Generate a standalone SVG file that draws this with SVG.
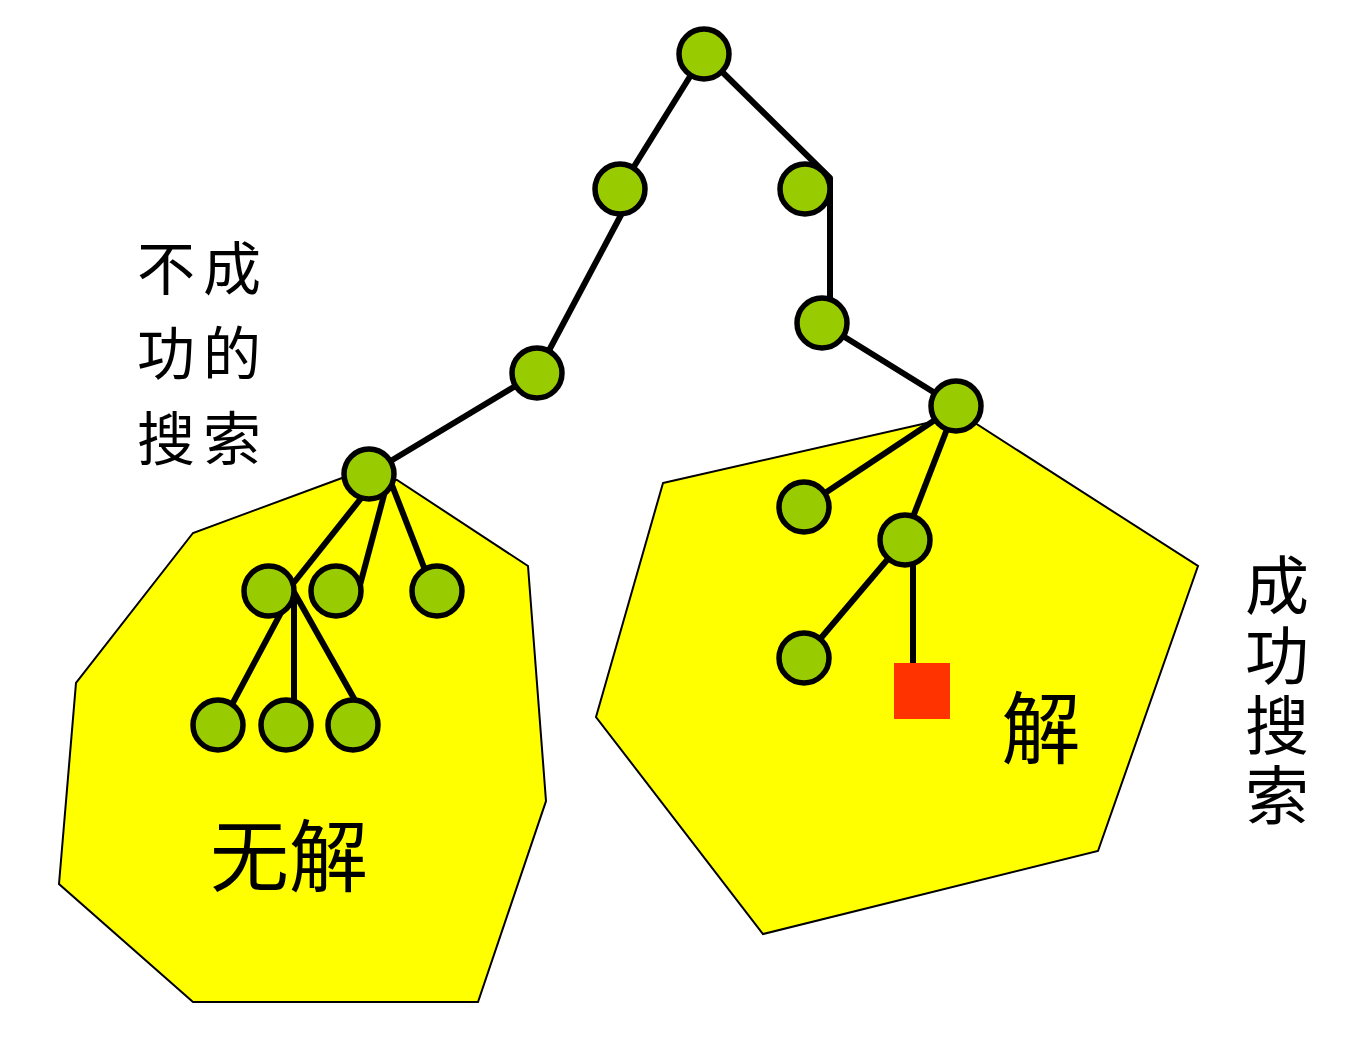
<svg xmlns="http://www.w3.org/2000/svg" width="1355" height="1043" viewBox="0 0 1355 1043">
<style>
.region{fill:#FFFF00;stroke:#000;stroke-width:2;stroke-linejoin:miter}
.edge{stroke:#000;stroke-width:6;fill:none;stroke-linejoin:round}
.node{fill:#99CC00;stroke:#000;stroke-width:5.5}
.goal{fill:#FF3300}
.lbl{font-family:"Noto Sans CJK SC","Noto Sans CJK TC",sans-serif;fill:#000}
</style>
<rect width="1355" height="1043" fill="#fff"/>
<g id="regions">
<polygon id="region-nosolution" class="region" points="342,478 193,533 76,683 59,884 193,1002 478,1002 546,801 528,566 397,480"/>
<polygon id="region-solution" class="region" points="663,483 940,420 975,423 1198,566 1098,851 763,934 596,717"/>
</g>
<g id="connectors">
<polyline class="edge" points="704,54 830,178 830,300"/>
<line class="edge" x1="704" y1="54" x2="620" y2="189"/>
<line class="edge" x1="629" y1="200" x2="537" y2="373"/>
<line class="edge" x1="537" y1="373" x2="369" y2="474"/>
<line class="edge" x1="822" y1="323" x2="956" y2="406"/>
<line class="edge" x1="374" y1="482" x2="292" y2="585"/>
<line class="edge" x1="388" y1="480" x2="360" y2="585"/>
<line class="edge" x1="390" y1="480" x2="425" y2="570"/>
<line class="edge" x1="292" y1="592" x2="228" y2="712"/>
<line class="edge" x1="294" y1="592" x2="294" y2="705"/>
<line class="edge" x1="294" y1="592" x2="356" y2="702"/>
<line class="edge" x1="956" y1="406" x2="804" y2="507"/>
<line class="edge" x1="956" y1="406" x2="904" y2="540"/>
<line class="edge" x1="904" y1="540" x2="804" y2="658"/>
<line class="edge" x1="913" y1="550" x2="913" y2="665"/>
</g>
<g id="n-root"><circle class="node" cx="704" cy="54" r="25"/></g>
<g id="n-a"><circle class="node" cx="620" cy="189" r="25"/></g>
<g id="n-b"><circle class="node" cx="805" cy="189" r="25"/></g>
<g id="n-c"><circle class="node" cx="822" cy="323" r="25"/></g>
<g id="n-d"><circle class="node" cx="537" cy="373" r="25"/></g>
<g id="n-e"><circle class="node" cx="956" cy="406" r="25"/></g>
<g id="n-f"><circle class="node" cx="369" cy="474" r="25"/></g>
<g id="n-f1"><circle class="node" cx="269" cy="591" r="25"/></g>
<g id="n-f2"><circle class="node" cx="336" cy="591" r="25"/></g>
<g id="n-f3"><circle class="node" cx="437" cy="591" r="25"/></g>
<g id="n-g1"><circle class="node" cx="218" cy="725" r="25"/></g>
<g id="n-g2"><circle class="node" cx="286" cy="725" r="25"/></g>
<g id="n-g3"><circle class="node" cx="353" cy="725" r="25"/></g>
<g id="n-e1"><circle class="node" cx="804" cy="507" r="25"/></g>
<g id="n-e2"><circle class="node" cx="905" cy="540" r="25"/></g>
<g id="n-e3"><circle class="node" cx="804" cy="658" r="25"/></g>
<g id="n-goal"><rect class="goal" x="894" y="663" width="56" height="56"/></g>
<g id="labels">
<text class="lbl" font-size="58" letter-spacing="8" x="137" y="290">不成</text>
<text class="lbl" font-size="58" letter-spacing="8" x="137" y="375">功的</text>
<text class="lbl" font-size="58" letter-spacing="8" x="137" y="460">搜索</text>
<text class="lbl" font-size="64" x="1277" y="553" writing-mode="vertical-rl" style="writing-mode:vertical-rl;text-orientation:upright" letter-spacing="6">成功搜索</text>
<text class="lbl" font-size="79" x="289" y="886" text-anchor="middle">无解</text>
<text class="lbl" font-size="79" x="1041" y="758" text-anchor="middle">解</text>
</g>
</svg>
